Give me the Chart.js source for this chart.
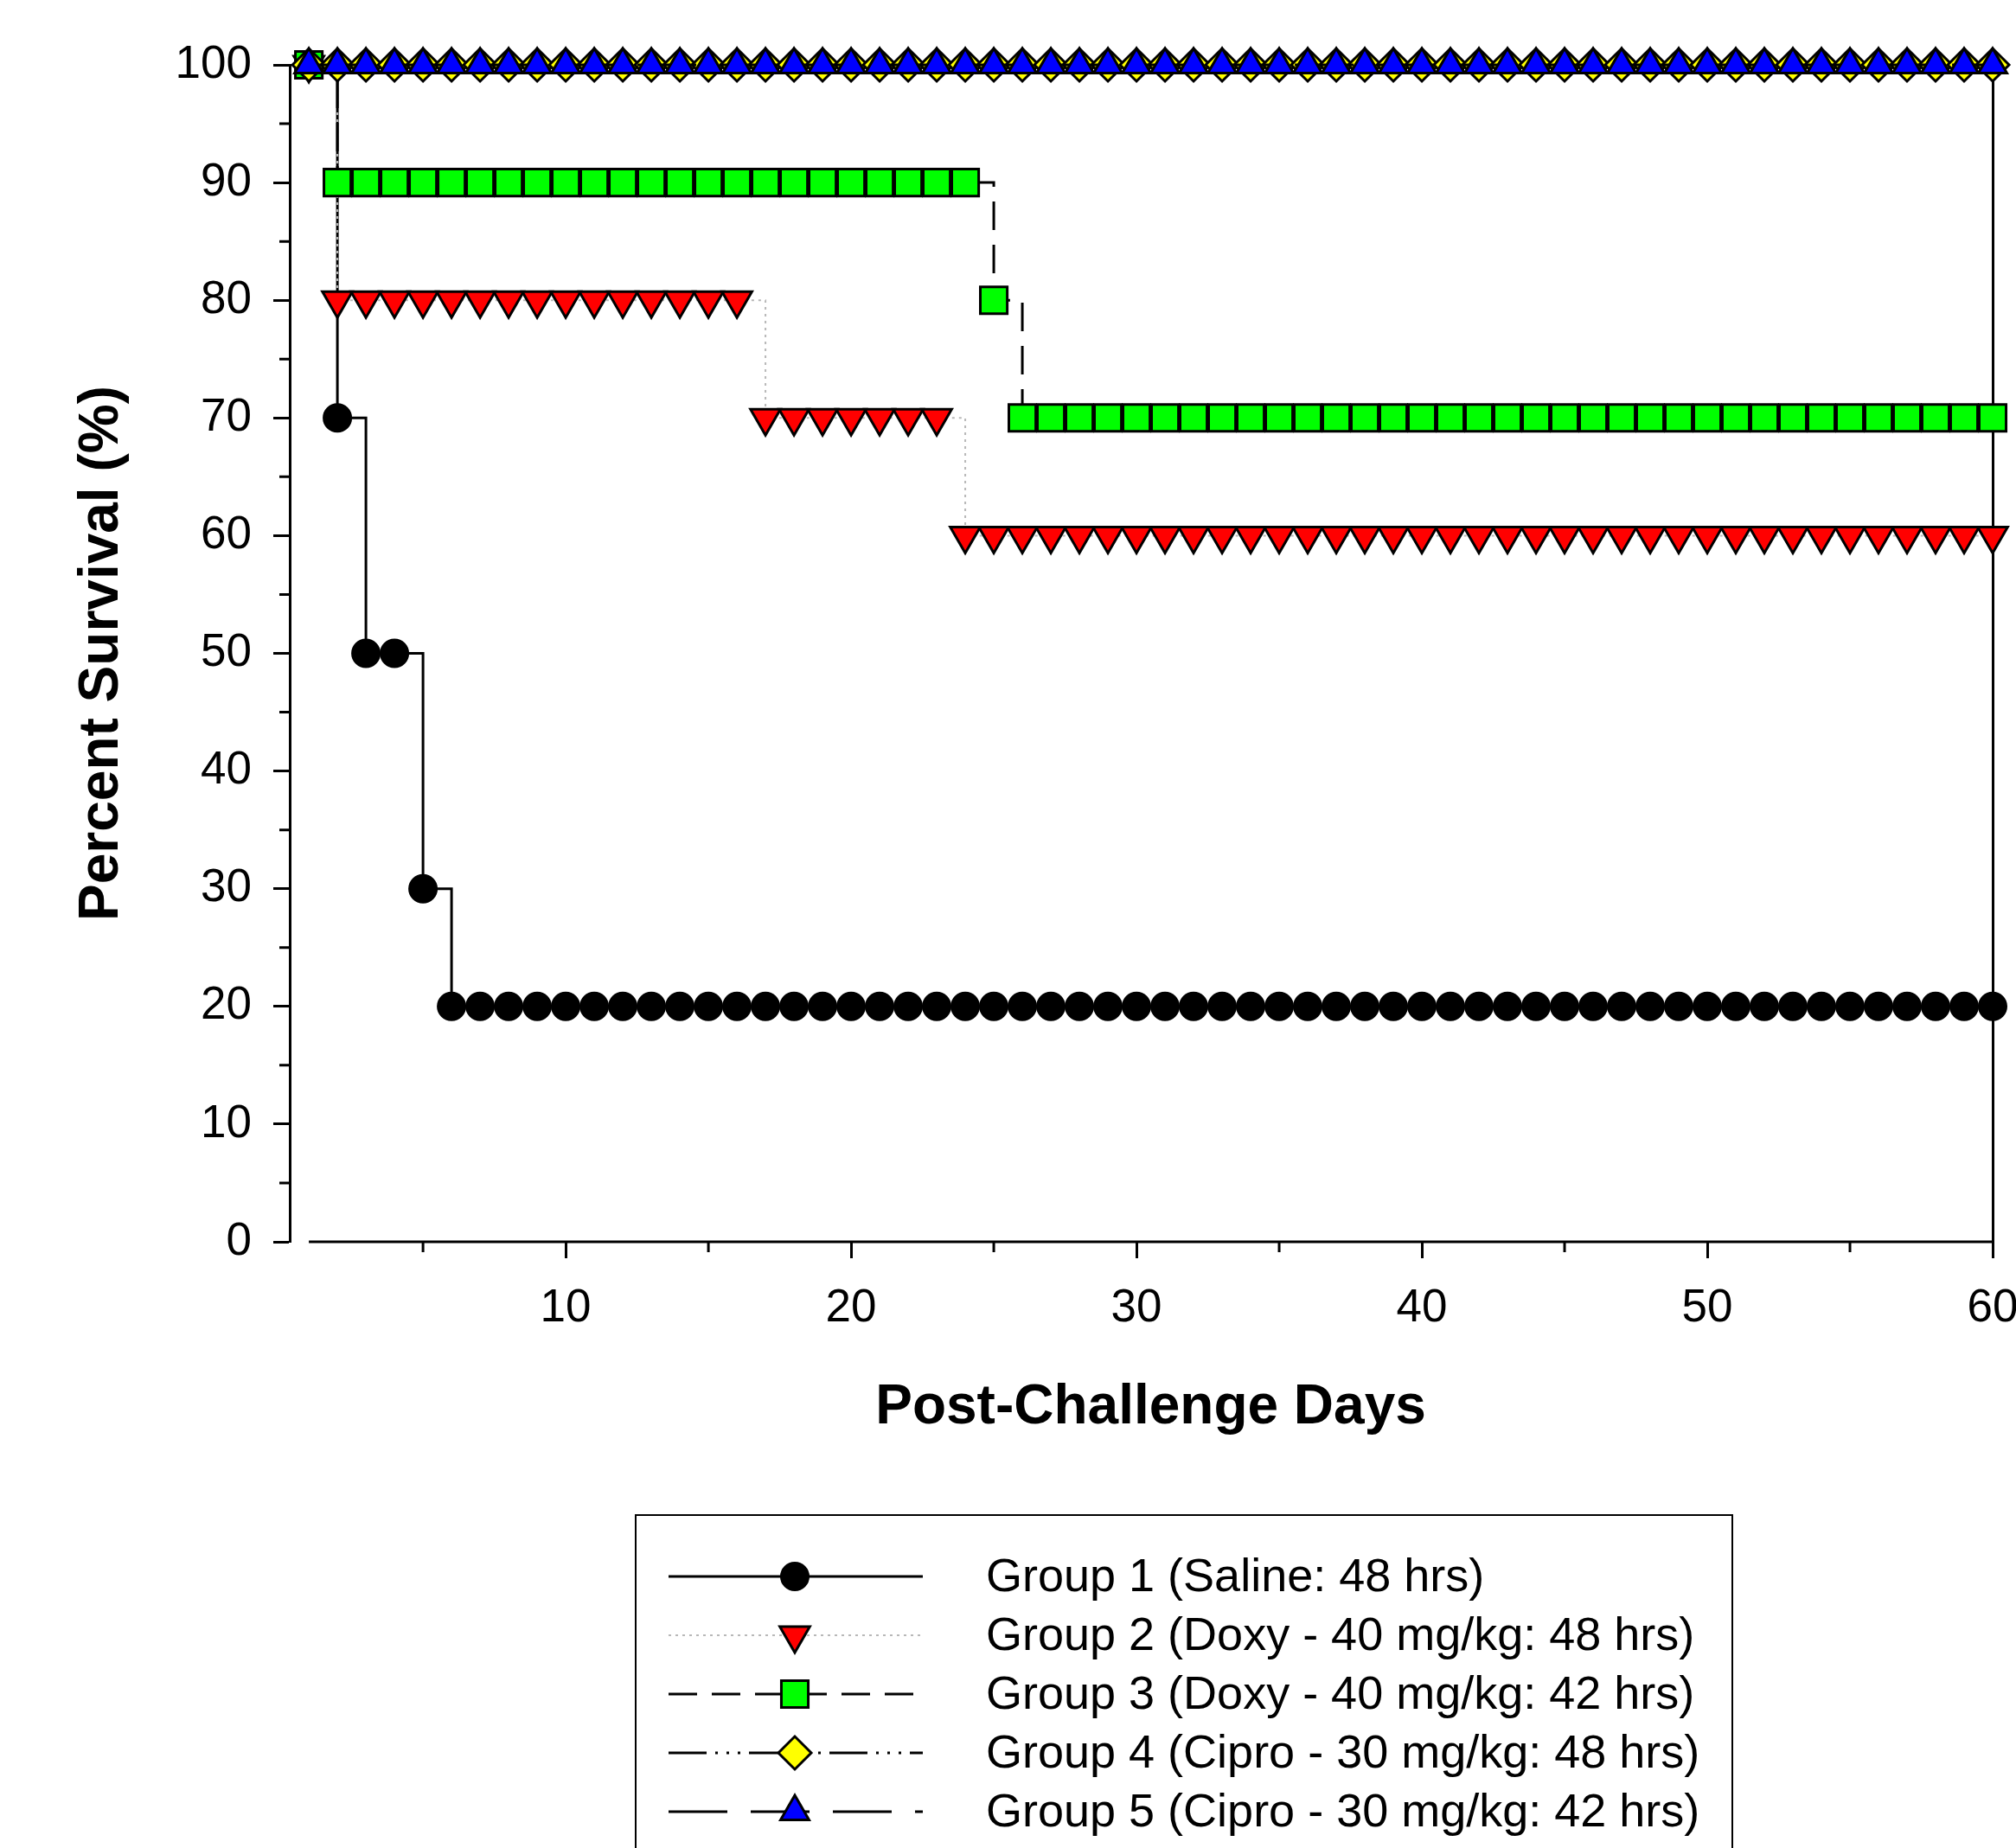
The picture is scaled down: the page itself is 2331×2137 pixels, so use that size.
<!DOCTYPE html>
<html>
<head>
<meta charset="utf-8">
<script src="https://cdn.jsdelivr.net/npm/chart.js@4.4.1/dist/chart.umd.min.js"></script>
<style>
  html, body { margin: 0; padding: 0; background: #fff; }
  canvas { display: block; }
</style>
</head>
<body>
<canvas id="survival" width="2331" height="2137"></canvas>
<script>
// post-challenge days
const days = [1, 2, 3, 4, 5, 6, 7, 8, 9, 10, 11, 12, 13, 14, 15, 16, 17, 18, 19, 20,
  21, 22, 23, 24, 25, 26, 27, 28, 29, 30, 31, 32, 33, 34, 35, 36, 37, 38, 39, 40,
  41, 42, 43, 44, 45, 46, 47, 48, 49, 50, 51, 52, 53, 54, 55, 56, 57, 58, 59, 60]

// percent survival per group, one value per day
const group1 = [100, 70, 50, 50, 30, 20, 20, 20, 20, 20, 20, 20, 20, 20, 20, 20, 20, 20, 20, 20,
  20, 20, 20, 20, 20, 20, 20, 20, 20, 20, 20, 20, 20, 20, 20, 20, 20, 20, 20, 20,
  20, 20, 20, 20, 20, 20, 20, 20, 20, 20, 20, 20, 20, 20, 20, 20, 20, 20, 20, 20]
const group2 = [100, 80, 80, 80, 80, 80, 80, 80, 80, 80, 80, 80, 80, 80, 80, 80, 70, 70, 70, 70,
  70, 70, 70, 60, 60, 60, 60, 60, 60, 60, 60, 60, 60, 60, 60, 60, 60, 60, 60, 60,
  60, 60, 60, 60, 60, 60, 60, 60, 60, 60, 60, 60, 60, 60, 60, 60, 60, 60, 60, 60]
const group3 = [100, 90, 90, 90, 90, 90, 90, 90, 90, 90, 90, 90, 90, 90, 90, 90, 90, 90, 90, 90,
  90, 90, 90, 90, 80, 70, 70, 70, 70, 70, 70, 70, 70, 70, 70, 70, 70, 70, 70, 70,
  70, 70, 70, 70, 70, 70, 70, 70, 70, 70, 70, 70, 70, 70, 70, 70, 70, 70, 70, 70]
const group4 = [100, 100, 100, 100, 100, 100, 100, 100, 100, 100, 100, 100, 100, 100, 100, 100, 100, 100, 100, 100,
  100, 100, 100, 100, 100, 100, 100, 100, 100, 100, 100, 100, 100, 100, 100, 100, 100, 100, 100, 100,
  100, 100, 100, 100, 100, 100, 100, 100, 100, 100, 100, 100, 100, 100, 100, 100, 100, 100, 100, 100]
const group5 = [100, 100, 100, 100, 100, 100, 100, 100, 100, 100, 100, 100, 100, 100, 100, 100, 100, 100, 100, 100,
  100, 100, 100, 100, 100, 100, 100, 100, 100, 100, 100, 100, 100, 100, 100, 100, 100, 100, 100, 100,
  100, 100, 100, 100, 100, 100, 100, 100, 100, 100, 100, 100, 100, 100, 100, 100, 100, 100, 100, 100]

const groupNames = [
  "Group 1 (Saline: 48 hrs)",
  "Group 2 (Doxy - 40 mg/kg: 48 hrs)",
  "Group 3 (Doxy - 40 mg/kg: 42 hrs)",
  "Group 4 (Cipro - 30 mg/kg: 48 hrs)",
  "Group 5 (Cipro - 30 mg/kg: 42 hrs)"
]

const xMajorTicks = [10, 20, 30, 40, 50, 60]
const xMinorTicks = [5, 15, 25, 35, 45, 55]
const yMinorTicks = [5, 15, 25, 35, 45, 55, 65, 75, 85, 95]

const FONT = "'Liberation Sans', Arial, sans-serif"

const toPoints = vals => days.map((d, i) => ({ x: d, y: vals[i] }))

function series(label, vals, o) {
  return Object.assign({
    label,
    data: toPoints(vals),
    stepped: 'before',
    fill: false,
    clip: false,
    borderWidth: 3,
    pointRadius: 16,
    pointBorderColor: '#000',
    pointBorderWidth: 3,
    pointRotation: 0
  }, o)
}

const datasets = [
  series(groupNames[0], group1, { borderColor: '#000', pointStyle: 'circle', pointBackgroundColor: '#000', pointRadius: 15.5, order: 5 }),
  series(groupNames[1], group2, { borderColor: '#b8b8b8', borderWidth: 2, borderDash: [3, 5], pointStyle: 'triangle', pointRotation: 180, pointBackgroundColor: '#ff0000', pointRadius: 20, order: 4 }),
  series(groupNames[2], group3, { borderColor: '#000', borderDash: [33, 17], pointStyle: 'rect', pointBackgroundColor: '#00ff00', pointRadius: 22, order: 3 }),
  series(groupNames[3], group4, { borderColor: '#000', borderDash: [44, 10, 3, 10, 3, 10, 3, 10], pointStyle: 'rectRot', pointBackgroundColor: '#ffff00', pointRadius: 19, order: 2 }),
  series(groupNames[4], group5, { borderColor: '#000', borderDash: [68, 27], pointStyle: 'triangle', pointBackgroundColor: '#0000ff', pointRadius: 19, order: 1 })
]

// x axis line (starts at first day), minor ticks, x title and the boxed legend
const extras = {
  id: 'extras',
  afterDraw(chart) {
    const { ctx, scales: { x, y } } = chart
    ctx.save()
    ctx.strokeStyle = '#000'
    ctx.lineWidth = 3
    const y0 = y.getPixelForValue(0)
    const xStart = x.getPixelForValue(days[0])
    const xEnd = x.getPixelForValue(days[days.length - 1])
    ctx.beginPath()
    ctx.moveTo(xStart, y0)
    ctx.lineTo(xEnd + 1.5, y0)
    xMinorTicks.forEach(v => {
      const px = x.getPixelForValue(v)
      ctx.moveTo(px, y0)
      ctx.lineTo(px, y0 + 12)
    })
    const x0 = chart.chartArea.left
    yMinorTicks.forEach(v => {
      const py = y.getPixelForValue(v)
      ctx.moveTo(x0, py)
      ctx.lineTo(x0 - 12, py)
    })
    ctx.stroke()

    // axis title centred on the drawn x axis line
    ctx.fillStyle = '#000'
    ctx.font = 'bold 64px ' + FONT
    ctx.textAlign = 'center'
    ctx.textBaseline = 'middle'
    ctx.fillText('Post-Challenge Days', (xStart + xEnd) / 2, 1628)

    // legend
    ctx.lineWidth = 2
    ctx.strokeRect(735, 1752, 1268, 500)
    const rowY = 1823, rowStep = 68
    chart.data.datasets.forEach((ds, i) => {
      const cy = rowY + i * rowStep
      ctx.save()
      ctx.strokeStyle = ds.borderColor
      ctx.lineWidth = ds.borderWidth
      ctx.setLineDash(ds.borderDash || [])
      ctx.beginPath()
      ctx.moveTo(773, cy)
      ctx.lineTo(1067, cy)
      ctx.stroke()
      ctx.restore()
      ctx.fillStyle = ds.pointBackgroundColor
      ctx.strokeStyle = '#000'
      ctx.lineWidth = 3
      ctx.setLineDash([])
      Chart.helpers.drawPoint(ctx, {
        pointStyle: ds.pointStyle,
        rotation: ds.pointRotation,
        radius: ds.pointRadius,
        borderWidth: 3
      }, 919, cy)
      ctx.fillStyle = '#000'
      ctx.font = '54px ' + FONT
      ctx.textBaseline = 'middle'
      ctx.textAlign = 'left'
      ctx.fillText(ds.label, 1140, cy + 2)
    })
    ctx.restore()
  }
}

new Chart(document.getElementById('survival'), {
  type: 'line',
  data: { datasets },
  options: {
    responsive: false,
    animation: false,
    devicePixelRatio: 1,
    layout: { padding: { top: 75, left: 80, right: 27, bottom: 473 } },
    plugins: {
      legend: { display: false },
      tooltip: { enabled: false }
    },
    scales: {
      x: {
        type: 'linear',
        min: 0.33,
        max: 60,
        afterBuildTicks: s => { s.ticks = xMajorTicks.map(v => ({ value: v })) },
        afterFit: s => { s.height = 228; s.paddingLeft = 0; s.paddingRight = 0 },
        grid: { display: true, drawOnChartArea: false, drawTicks: true, tickLength: 19, tickWidth: 3, tickColor: '#000' },
        border: { display: false },
        ticks: { color: '#000', padding: 27, maxRotation: 0, autoSkip: false, font: { family: FONT, size: 53 } },
        title: { display: false }
      },
      y: {
        min: 0,
        max: 100,
        afterFit: s => { s.width = 255; s.paddingTop = 0; s.paddingBottom = 0 },
        grid: { display: true, drawOnChartArea: false, drawTicks: true, tickLength: 19, tickWidth: 3, tickColor: '#000' },
        border: { display: true, color: '#000', width: 3 },
        ticks: { stepSize: 10, color: '#000', padding: 25, font: { family: FONT, size: 53 } },
        title: { display: true, text: 'Percent Survival (%)', color: '#000', padding: 0, font: { family: FONT, size: 64, weight: 'bold' } }
      },
      y2: {
        position: 'right',
        min: 0,
        max: 100,
        afterFit: s => { s.width = 0 },
        grid: { display: false, drawTicks: false },
        ticks: { display: false },
        border: { display: true, color: '#000', width: 3 }
      }
    }
  },
  plugins: [extras]
})
</script>
</body>
</html>
